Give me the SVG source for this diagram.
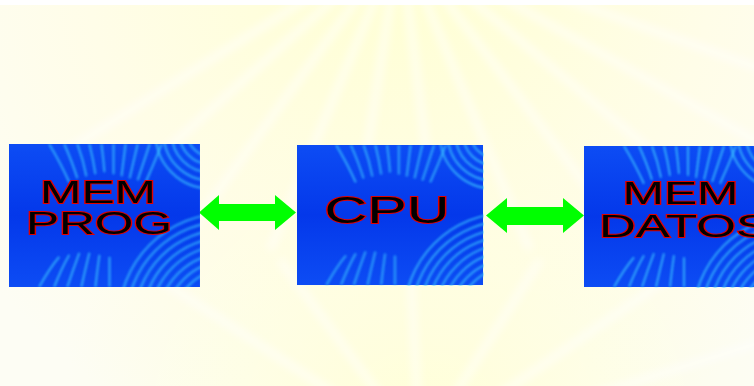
<svg xmlns="http://www.w3.org/2000/svg" xmlns:xlink="http://www.w3.org/1999/xlink" width="754" height="386" viewBox="0 0 754 386">
<style>
.lbl{font-family:"Liberation Sans",Arial,sans-serif;font-size:32px;fill:#000;stroke:#e00000;stroke-width:1.8;paint-order:stroke}
.arrow{fill:#00ff00}
.streak{fill:none;stroke:#3cc6ff;stroke-width:2.2;opacity:.7}
.ray{fill:none;stroke:#ffffff;stroke-width:7;opacity:.6}
</style>
<defs>
<radialGradient id="bgG" cx="400" cy="-40" r="520" gradientUnits="userSpaceOnUse">
<stop offset="0" stop-color="#ffffd2"/>
<stop offset="0.6" stop-color="#fffde8"/>
<stop offset="1" stop-color="#fdfdf4"/>
</radialGradient>
<radialGradient id="bgG2" cx="420" cy="440" r="360" gradientUnits="userSpaceOnUse">
<stop offset="0" stop-color="#ffffd6" stop-opacity="1"/>
<stop offset="1" stop-color="#ffffe0" stop-opacity="0"/>
</radialGradient>
<linearGradient id="boxG" x1="0" y1="0" x2="0" y2="1">
<stop offset="0" stop-color="#0d4cf4"/>
<stop offset="0.5" stop-color="#0438ea"/>
<stop offset="1" stop-color="#0d4cf4"/>
</linearGradient>
<filter id="blur" x="-10%" y="-10%" width="120%" height="120%"><feGaussianBlur stdDeviation="1.1"/></filter>
<filter id="blur2" x="-10%" y="-10%" width="120%" height="120%"><feGaussianBlur stdDeviation="4"/></filter>
<clipPath id="boxClip"><rect x="0" y="0" width="190" height="142"/></clipPath>
<g id="tex">
<rect x="0" y="0" width="190" height="142" fill="url(#boxG)"/>
<g clip-path="url(#boxClip)">
<g filter="url(#blur)">
<path class="streak" d="M40 0 Q52 20 60 38"/>
<path class="streak" d="M55 0 Q63 18 68 34"/>
<path class="streak" d="M68 0 Q74 16 77 32"/>
<path class="streak" d="M80 0 Q84 16 86 30"/>
<path class="streak" d="M92 0 Q94 15 95 28"/>
<path class="streak" d="M104 0 Q104 15 104 30"/>
<path class="streak" d="M116 0 Q114 16 112 32"/>
<path class="streak" d="M128 0 Q124 17 120 34"/>
<path class="streak" d="M140 0 Q134 18 128 36"/>
<path class="streak" d="M152 0 Q144 20 136 38"/>
<circle class="streak" cx="200" cy="-10" r="22"/>
<circle class="streak" cx="200" cy="-10" r="30"/>
<circle class="streak" cx="200" cy="-10" r="38"/>
<circle class="streak" cx="200" cy="-10" r="46"/>
<circle class="streak" cx="200" cy="-10" r="54"/>
<path class="streak" d="M30 142 Q40 124 50 112"/>
<path class="streak" d="M45 142 Q52 124 60 110"/>
<path class="streak" d="M58 142 Q64 124 70 108"/>
<path class="streak" d="M72 142 Q76 124 80 108"/>
<path class="streak" d="M86 142 Q88 124 90 110"/>
<path class="streak" d="M100 142 Q100 126 100 112"/>
<circle class="streak" cx="215" cy="175" r="50"/>
<circle class="streak" cx="215" cy="175" r="58"/>
<circle class="streak" cx="215" cy="175" r="66"/>
<circle class="streak" cx="215" cy="175" r="74"/>
<circle class="streak" cx="215" cy="175" r="82"/>
<circle class="streak" cx="215" cy="175" r="90"/>
<circle class="streak" cx="215" cy="175" r="98"/>
<circle class="streak" cx="215" cy="175" r="106"/>
</g>
</g>
</g>
</defs>
<g id="background">
<rect x="0" y="0" width="754" height="386" fill="url(#bgG)"/>
<rect x="0" y="0" width="754" height="386" fill="url(#bgG2)"/>
<g filter="url(#blur2)">
<path class="ray" d="M400 -60 L20 180"/>
<path class="ray" d="M400 -60 L110 200"/>
<path class="ray" d="M400 -60 L190 230"/>
<path class="ray" d="M400 -60 L270 250"/>
<path class="ray" d="M400 -60 L350 260"/>
<path class="ray" d="M400 -60 L440 260"/>
<path class="ray" d="M400 -60 L530 250"/>
<path class="ray" d="M400 -60 L620 230"/>
<path class="ray" d="M400 -60 L710 200"/>
<path class="ray" d="M400 -60 L790 160"/>
<path class="ray" d="M400 -60 L820 90"/>
<path class="ray" d="M420 450 L130 260"/>
<path class="ray" d="M420 450 L280 260"/>
<path class="ray" d="M420 450 L410 260"/>
<path class="ray" d="M420 450 L540 260"/>
<path class="ray" d="M420 450 L680 270"/>
<path class="ray" d="M420 450 L800 330"/>
</g>
<rect x="0" y="0" width="754" height="5" fill="#ffffff"/>
</g>
<g id="connectors">
<polygon class="arrow" points="199,212.5 219,195 219,204 275,204 275,195 296,212.5 275,230 275,221 219,221 219,230"/>
<polygon class="arrow" points="486,215.5 507,198 507,207 563,207 563,198 584,215.5 563,233 563,225 507,225 507,233"/>
</g>
<g id="node-memprog">
<use xlink:href="#tex" transform="translate(9,144) scale(1.005,1.007)"/>
<text class="lbl" x="98" y="203" text-anchor="middle" textLength="116" lengthAdjust="spacingAndGlyphs">MEM</text>
<text class="lbl" x="99" y="234" text-anchor="middle" textLength="146" lengthAdjust="spacingAndGlyphs">PROG</text>
</g>
<g id="node-cpu">
<use xlink:href="#tex" transform="translate(297,145) scale(0.979,0.986)"/>
<text class="lbl" x="387" y="223" text-anchor="middle" style="font-size:36px" textLength="125" lengthAdjust="spacingAndGlyphs">CPU</text>
</g>
<g id="node-memdatos">
<use xlink:href="#tex" transform="translate(584,146) scale(1,0.993)"/>
<text class="lbl" x="680.5" y="204" text-anchor="middle" textLength="116" lengthAdjust="spacingAndGlyphs">MEM</text>
<text class="lbl" x="599" y="237" textLength="171" lengthAdjust="spacingAndGlyphs">DATOS</text>
</g>
</svg>
